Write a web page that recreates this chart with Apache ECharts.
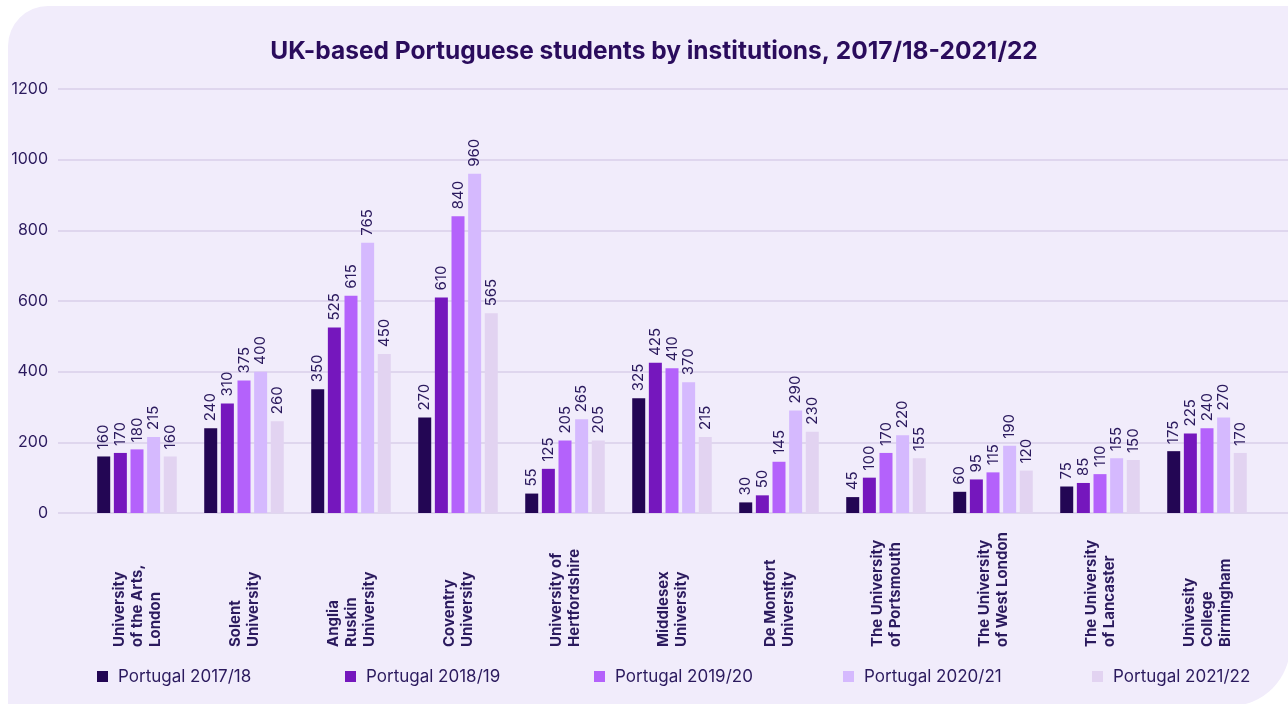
<!DOCTYPE html>
<html>
<head>
<meta charset="utf-8">
<script src="https://cdn.jsdelivr.net/npm/echarts@6/dist/echarts.min.js"></script>
<style>
html,body{margin:0;padding:0;background:#ffffff;}
#chart{width:1288px;height:704px;}
</style>
</head>
<body>
<div id="chart"></div>
<script>
const categories = [
  "University\nof the Arts,\nLondon",
  "Solent\nUniversity",
  "Anglia\nRuskin\nUniversity",
  "Coventry\nUniversity",
  "University of\nHertfordshire",
  "Middlesex\nUniversity",
  "De Montfort\nUniversity",
  "The University\nof Portsmouth",
  "The University\nof West London",
  "The University\nof Lancaster",
  "Univesity\nCollege\nBirmingham"
];
const seriesNames = ["Portugal 2017/18","Portugal 2018/19","Portugal 2019/20","Portugal 2020/21","Portugal 2021/22"];
const y2017 = [160,240,350,270,55,325,30,45,60,75,175];
const y2018 = [170,310,525,610,125,425,50,100,95,85,225];
const y2019 = [180,375,615,840,205,410,145,170,115,110,240];
const y2020 = [215,400,765,960,265,370,290,220,190,155,270];
const y2021 = [160,260,450,565,205,215,230,155,120,150,170];
const yTicks = [0,200,400,600,800,1000,1200];

const seriesData = [y2017,y2018,y2019,y2020,y2021];
const colors = ["#230654","#7517bd","#b462fb","#d5b9fe","#e2d3f1"];
const textColor = "#2b1a5e";
const FONT = "Inter, 'Noto Sans', sans-serif";

const chart = echarts.init(document.getElementById('chart'), null, {renderer:'canvas'});

const legendLefts = [97,345,594,843,1092];

const option = {
  backgroundColor: '#ffffff',
  animation: false,
  graphic: [{
    type: 'rect', z: -10, silent: true,
    shape: {x: 8, y: 6, width: 1282, height: 700, r: [40, 0, 60, 0]},
    style: {fill: '#f1ecfb'}
  }],
  title: {
    text: 'UK-based Portuguese students by institutions, 2017/18-2021/22',
    left: 649, top: 34, textAlign: 'center',
    textStyle: {fontFamily: FONT, fontWeight: 'bold', fontSize: 24.5, color: '#2a0c5c'}
  },
  legend: seriesNames.map((n, i) => ({
    data: [n], left: legendLefts[i], top: 668, padding: 0,
    icon: 'rect', itemWidth: 11, itemHeight: 11, itemGap: 0,
    textStyle: {fontFamily: FONT, fontSize: 17, color: textColor, padding: [0,0,0,5]},
    selectedMode: false
  })),
  grid: [
    {left: 58, right: 0, top: 89, bottom: 191},
    {left: 83.5, right: 27.5, top: 89, bottom: 191}
  ],
  xAxis: [
    {gridIndex: 0, type: 'value', min: 0, max: 1, show: false},
    {
      gridIndex: 1, type: 'category', data: categories,
      axisLine: {show: false}, axisTick: {show: false},
      axisLabel: {
        interval: 0, rotate: 90, align: 'left', verticalAlign: 'middle',
        margin: 134, fontFamily: FONT, fontWeight: 'bold', fontSize: 15,
        lineHeight: 18, color: textColor
      }
    }
  ],
  yAxis: [
    {
      gridIndex: 0, type: 'value', min: 0, max: 1200, interval: 200,
      axisLine: {show: false}, axisTick: {show: false},
      axisLabel: {fontFamily: FONT, fontSize: 16, color: textColor, margin: 10,
        formatter: v => yTicks.includes(v) ? String(v) : ''},
      splitLine: {lineStyle: {color: '#d8cfea', width: 1.5}}
    },
    {
      gridIndex: 1, type: 'value', min: 0, max: 1200, interval: 200,
      show: false, splitLine: {show: false}
    }
  ],
  series: seriesNames.map((n, i) => ({
    name: n, type: 'bar', xAxisIndex: 1, yAxisIndex: 1,
    data: seriesData[i], barWidth: 13, barGap: '28%',
    itemStyle: {color: colors[i]},
    label: {
      show: true, position: 'top', rotate: 90, align: 'left', verticalAlign: 'middle',
      distance: 7, fontFamily: FONT, fontSize: 15, color: textColor
    }
  }))
};
chart.setOption(option);
</script>
</body>
</html>
